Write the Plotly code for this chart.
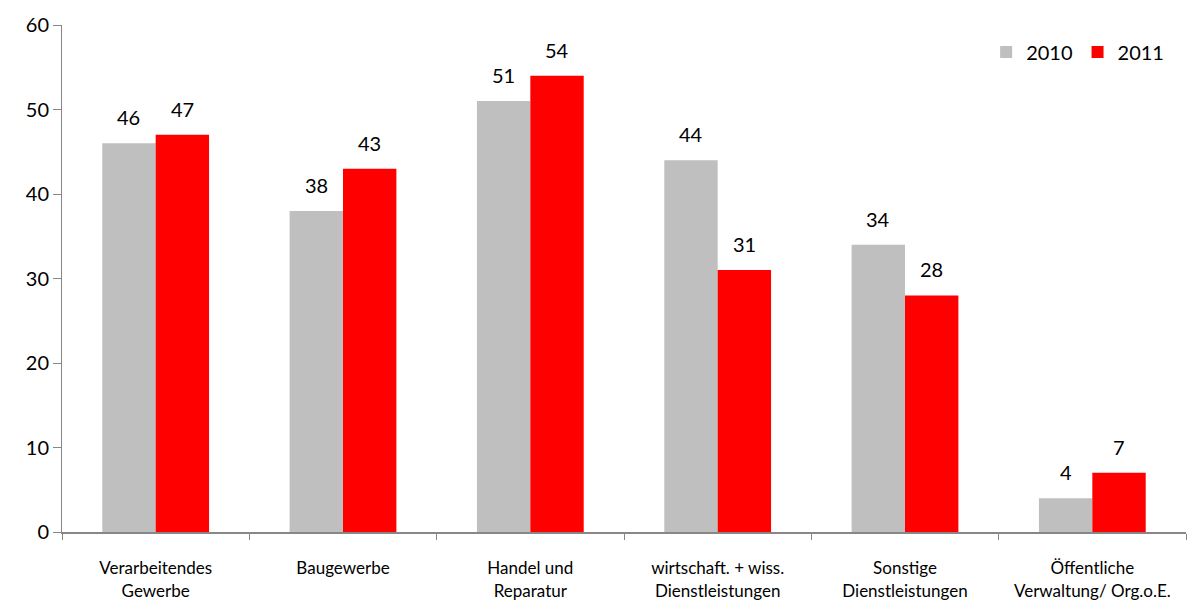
import plotly.graph_objects as go

categories = [
    "Verarbeitendes<br>Gewerbe",
    "Baugewerbe",
    "Handel und<br>Reparatur",
    "wirtschaft. + wiss.<br>Dienstleistungen",
    "Sonstige<br>Dienstleistungen",
    "Öffentliche<br>Verwaltung/ Org.o.E.",
]
values_2010 = [46, 38, 51, 44, 34, 4]
values_2011 = [47, 43, 54, 31, 28, 7]
y_ticks = [0, 10, 20, 30, 40, 50, 60]

FONT = "Lato, Carlito, Calibri, sans-serif"
BAR_HALF_OFFSET = 26.7  # px from category centre to each bar centre

fig = go.Figure()
fig.add_trace(go.Bar(
    name="2010", x=categories, y=values_2010,
    marker=dict(color="#BFBFBF", line=dict(width=0)),
))
fig.add_trace(go.Bar(
    name="2011", x=categories, y=values_2011,
    marker=dict(color="#FF0000", line=dict(width=0)),
))

# value labels floating above each bar
for series, shift in ((values_2010, -BAR_HALF_OFFSET), (values_2011, BAR_HALF_OFFSET)):
    for cat, v in zip(categories, series):
        fig.add_annotation(
            x=cat, y=v, text=str(v), showarrow=False,
            xshift=shift, yshift=12, yanchor="bottom",
            font=dict(size=20, color="#000000", family=FONT),
        )

fig.update_layout(
    width=1189, height=604,
    margin=dict(l=62, r=3, t=25, b=72),
    paper_bgcolor="white", plot_bgcolor="white",
    barmode="group", bargap=0.43, bargroupgap=0,
    font=dict(family=FONT, color="#000000"),
    showlegend=True,
    legend=dict(
        orientation="h", x=0.985, y=0.985, xanchor="right", yanchor="top",
        font=dict(size=20, family=FONT), itemwidth=30,
        traceorder="normal", bgcolor="rgba(0,0,0,0)",
    ),
)
fig.update_xaxes(
    showline=True, linecolor="#878787", linewidth=2,
    ticks="outside", ticklen=6, tickcolor="#878787", tickwidth=1,
    tickson="boundaries", showgrid=False,
    ticklabelstandoff=20,
    tickfont=dict(size=17, family=FONT),
)
fig.update_yaxes(
    range=[0, 60], tickvals=y_ticks,
    showline=True, linecolor="#878787", linewidth=1,
    ticks="outside", ticklen=8, tickcolor="#878787",
    showgrid=False, zeroline=False,
    tickfont=dict(size=20, family=FONT),
)

fig.write_html("out.html")
